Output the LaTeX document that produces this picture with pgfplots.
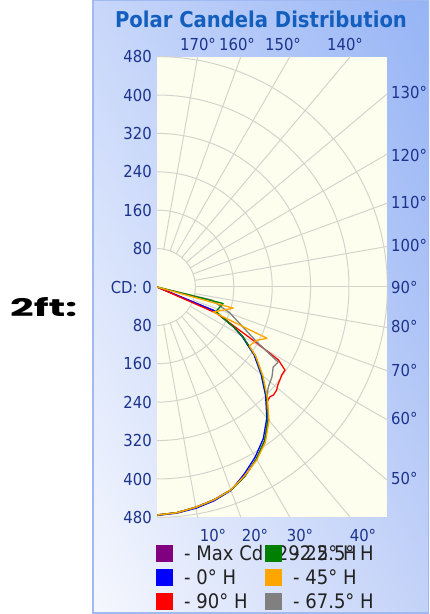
\documentclass[border=0pt]{standalone}
\usepackage{fontspec}
\setmainfont{DejaVu Sans Condensed}
\newfontfamily\popfont{Poppins}
\usepackage{pgfplots}
\pgfplotsset{compat=1.18}
\usepackage{pgfplotstable}
\usetikzlibrary{shadings}

\definecolor{panelUL}{RGB}{200,215,250}
\definecolor{panelUR}{RGB}{150,180,245}
\definecolor{panelLL}{RGB}{246,248,254}
\definecolor{panelLR}{RGB}{195,210,248}
\definecolor{panelborder}{RGB}{160,185,240}
\definecolor{tickblue}{RGB}{28,52,140}
\definecolor{titleblue}{RGB}{20,95,190}
\definecolor{ivory}{RGB}{254,254,238}
\definecolor{gridgray}{RGB}{212,212,206}
\definecolor{legtext}{RGB}{34,34,34}
\definecolor{cdpurple}{RGB}{128,0,128}
\definecolor{cdblue}{RGB}{0,0,255}
\definecolor{cdgreen}{RGB}{0,128,0}
\definecolor{cdorange}{RGB}{255,165,0}
\definecolor{cdred}{RGB}{255,0,0}
\definecolor{cdgray}{RGB}{128,128,128}

% va = vertical angle from nadir (deg), cd = candela
\pgfplotstableread{
va cd
0 475
5 472
10 466
15 459
20 450
25 434
30 414
35 391
40 360
45 323
50 286
55 250
60 206
62.5 180
65 152
67.5 130
90 0
}\purpletab

\pgfplotstableread{
va cd
0 476
5 473
10 468
15 461
20 451
25 430
30 409
35 386
40 356
45 320
50 283
55 247
60 204
62.5 179
65 151
67.5 129
90 0
}\bluetab

\pgfplotstableread{
va cd
0 475
5 472
10 466
15 459
20 450
25 434
30 414
35 391
40 360
45 323
50 286
55 250
60 206
62.5 180
65 150
67.5 133
76 142
90 0
}\greentab

\pgfplotstableread{
va cd
0 475
5 472
10 466
15 459
20 450
25 433
30 416
35 394
40 363
45 325
50 288
55 251
57.5 228
62 236
65 253
66 128
74.5 165
90 0
}\orangetab

\pgfplotstableread{
va cd
0 475
5 472
10 466
15 459
20 450
25 434
30 414
35 391
40 361
43.3 333
44.6 330
45.8 328
47.1 331
49.3 329
51.0 324
52.9 321
54.8 318
57.0 318
59.0 295
60.8 235
66.2 136
90 0
}\redtab

\pgfplotstableread{
va cd
0 475
5 472
10 466
15 459
20 450
25 434
30 414
35 391
40 360
43.5 334
45.4 322
48 312
52 304
55.4 294
58.2 297
61.2 237
70.4 161
76.6 117
90 0
}\graytab

\begin{document}
\begin{tikzpicture}[x=1pt,y=1pt]
\clip (0,0) rectangle (429,614);
\fill[white] (0,0) rectangle (429,614);
\shade[upper left=panelUL, upper right=panelUR, lower left=panelLL, lower right=panelLR]
  (92,0) rectangle (429,614);
\draw[panelborder, line width=1.5pt] (92.75,0.75) rectangle (428.25,613.25);

% plot area and polar grid
\fill[ivory] (157,96.6) rectangle (387.4,557.4);
\begin{scope}
  \clip (157,96.6) rectangle (387.4,557.4);
  \foreach \r in {80,160,...,480}
    \draw[gridgray, line width=1pt] (157,{327-0.48*\r}) arc[start angle=-90, end angle=90, radius={0.48*\r}];
  \foreach \a in {10,20,...,170}
    \draw[gridgray, line width=1pt] (157,327) ++({\a-90}:38.4) -- ++({\a-90}:420);
\end{scope}

\begin{axis}[
  at={(157pt,96.6pt)}, anchor=south west,
  x=0.48pt, y=0.48pt,
  xmin=0, xmax=480, ymin=-480, ymax=480,
  axis line style={draw=none},
  major tick length=0pt,
  xtick=\empty,
  ytick={-480,-400,...,480},
  yticklabels={480,400,320,240,160,80,CD: 0,80,160,240,320,400,480},
  yticklabel style={font=\fontsize{16.5}{18}\selectfont, text=tickblue, inner sep=0pt, xshift=-5pt},
  every axis plot/.append style={line width=1.3pt, line join=round, data cs=polar},
]
\addplot[cdpurple] table[x expr=\thisrow{va}-90, y=cd] {\purpletab};
\addplot[cdblue] table[x expr=\thisrow{va}-90, y=cd] {\bluetab};
\addplot[cdred] table[x expr=\thisrow{va}-90, y=cd] {\redtab};
\addplot[cdgray] table[x expr=\thisrow{va}-90, y=cd] {\graytab};
\addplot[cdgreen] table[x expr=\thisrow{va}-90, y=cd] {\greentab};
\addplot[cdorange] table[x expr=\thisrow{va}-90, y=cd] {\orangetab};
\end{axis}

% angle labels
\begin{scope}[every node/.style={font=\fontsize{16.5}{18}\selectfont, text=tickblue, inner sep=0pt}]
  \foreach \yy/\t in {522/130°,459/120°,412/110°,369/100°,327/90°,288/80°,244/70°,196/60°,136/50°}
    \node[anchor=west] at (391,\yy) {\t};
  \foreach \xx/\t in {198/170°,237/160°,283/150°,345/140°}
    \node at (\xx,570) {\t};
  \foreach \xx/\t in {213/10°,255/20°,300/30°,363/40°}
    \node at (\xx,79) {\t};
\end{scope}

\node[font=\bfseries\fontsize{21.8}{24}\selectfont, text=titleblue] at (261,595) {Polar Candela Distribution};
\node[anchor=south west, inner sep=0pt] at (10,297.3) {\resizebox{67pt}{19pt}{\popfont\bfseries 2ft:}};

% legend
\begin{scope}[every node/.style={font=\fontsize{20}{22}\selectfont, text=legtext, inner sep=0pt, anchor=west}]
  \fill[cdpurple] (156,52) rectangle (173,69);
  \node at (184,61) {- Max Cd: 292.5° H};
  \fill[cdgreen] (265,52) rectangle (282,69);
  \node at (293,61) {- 22.5° H};
  \fill[cdblue] (156,28) rectangle (173,45);
  \node at (184,37) {- 0° H};
  \fill[cdorange] (265,28) rectangle (282,45);
  \node at (293,37) {- 45° H};
  \fill[cdred] (156,4) rectangle (173,21);
  \node at (184,13) {- 90° H};
  \fill[cdgray] (265,4) rectangle (282,21);
  \node at (293,13) {- 67.5° H};
\end{scope}
\end{tikzpicture}
\end{document}
